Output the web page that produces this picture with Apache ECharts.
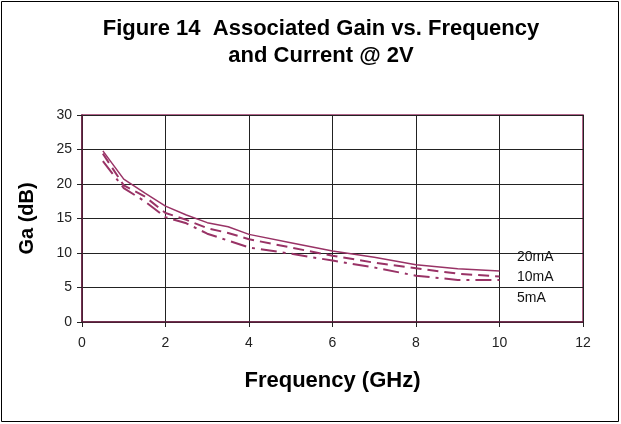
<!DOCTYPE html>
<html>
<head>
<meta charset="utf-8">
<script src="https://cdn.jsdelivr.net/npm/echarts@6/dist/echarts.min.js"></script>
<style>
html,body{margin:0;padding:0;background:#fff;}
#c{width:621px;height:424px;}
</style>
</head>
<body>
<div id="c"></div>
<script>
const freq = [0.5, 1, 1.5, 2, 2.5, 3, 3.5, 4, 5, 6, 7, 8, 9, 10];
const ga20mA = [24.8, 20.7, 18.7, 16.8, 15.5, 14.4, 13.8, 12.7, 11.5, 10.3, 9.4, 8.3, 7.7, 7.4];
const ga10mA = [24.4, 19.8, 18.2, 15.8, 14.8, 13.6, 12.9, 12.0, 10.8, 9.6, 8.6, 7.8, 7.0, 6.6];
const ga5mA  = [23.3, 19.4, 17.5, 15.2, 14.3, 12.8, 11.8, 10.8, 9.9, 8.9, 7.9, 6.7, 6.1, 6.1];
const seriesNames = ['20mA', '10mA', '5mA'];
const xTicks = [0, 2, 4, 6, 8, 10, 12];
const yTicks = [0, 5, 10, 15, 20, 25, 30];

const FONT = 'Liberation Sans, Arial, sans-serif';
const MAROON = '#993366';
const pair = (ys) => freq.map((f, i) => [f, ys[i]]);

const chart = echarts.init(document.getElementById('c'), null, {renderer: 'canvas'});
chart.setOption({
  animation: false,
  backgroundColor: '#fff',
  title: {
    text: 'Figure 14  Associated Gain vs. Frequency\nand Current @ 2V',
    left: 316, top: 10, textAlign: 'center',
    textStyle: {fontFamily: FONT, fontSize: 22, fontWeight: 'bold', color: '#000', lineHeight: 27}
  },
  grid: {left: 82, top: 115, right: 38, bottom: 102, show: true, borderColor: MAROON, borderWidth: 1.5, backgroundColor: '#fff'},
  xAxis: {
    type: 'value', min: xTicks[0], max: xTicks[xTicks.length - 1], interval: 2,
    name: 'Frequency (GHz)', nameLocation: 'middle', nameGap: 48,
    nameTextStyle: {fontFamily: FONT, fontSize: 22, fontWeight: 'bold', color: '#000'},
    axisLine: {show: true, lineStyle: {color: '#5c1f3d', width: 1.5}},
    axisTick: {show: true, inside: false, length: 5, lineStyle: {color: '#222'}},
    axisLabel: {fontFamily: FONT, fontSize: 14, color: '#222', margin: 14},
    splitLine: {show: true, lineStyle: {color: '#222', width: 1}}
  },
  yAxis: {
    type: 'value', min: yTicks[0], max: yTicks[yTicks.length - 1], interval: 5,
    name: 'Ga (dB)', nameLocation: 'middle', nameGap: 45, nameRotate: 90,
    nameTextStyle: {fontFamily: FONT, fontSize: 20, fontWeight: 'bold', color: '#000'},
    axisLine: {show: true, lineStyle: {color: '#5c1f3d', width: 1.5}},
    axisTick: {show: true, inside: false, length: 5, lineStyle: {color: '#222'}},
    axisLabel: {fontFamily: FONT, fontSize: 14, color: '#222', margin: 10},
    splitLine: {show: true, lineStyle: {color: '#222', width: 1}}
  },
  series: [
    {name: seriesNames[0], type: 'line', data: pair(ga20mA), showSymbol: false, smooth: false,
     lineStyle: {color: MAROON, width: 1.5, type: 'solid'}},
    {name: seriesNames[1], type: 'line', data: pair(ga10mA), showSymbol: false,
     lineStyle: {color: MAROON, width: 2, type: [11, 6]}},
    {name: seriesNames[2], type: 'line', data: pair(ga5mA), showSymbol: false,
     lineStyle: {color: MAROON, width: 2, type: [16, 6, 3, 6]}}
  ],
  graphic: [
    {type: 'rect', shape: {x: 1.5, y: 1.5, width: 617, height: 420}, style: {fill: 'none', stroke: '#000', lineWidth: 1}, z: 100},
    {type: 'text', left: 517, top: 250, style: {text: seriesNames[0], font: '14px ' + FONT, fill: '#111'}},
    {type: 'text', left: 517, top: 270, style: {text: seriesNames[1], font: '14px ' + FONT, fill: '#111'}},
    {type: 'text', left: 517, top: 291, style: {text: seriesNames[2], font: '14px ' + FONT, fill: '#111'}}
  ]
});
</script>
</body>
</html>
